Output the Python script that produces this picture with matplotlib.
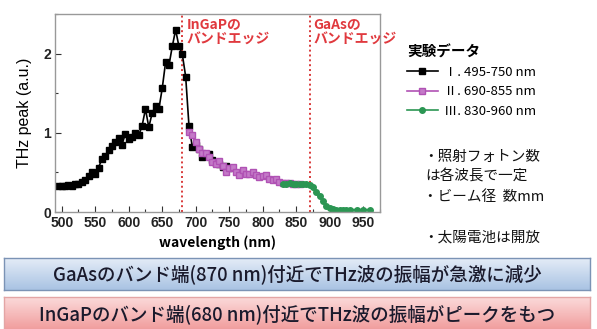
import matplotlib
matplotlib.use("Agg")
import matplotlib.pyplot as plt
import numpy as np
from matplotlib.colors import LinearSegmentedColormap
from matplotlib.ticker import MultipleLocator

plt.rcParams["font.family"] = ["Noto Sans CJK JP", "DejaVu Sans"]

# series I : 495-750 nm
wl_1 = [495, 500, 505, 510, 515, 520, 525, 530, 535, 540, 545, 550, 555, 560, 565,
        570, 575, 580, 585, 590, 595, 600, 605, 610, 615, 620, 625, 630, 635, 640,
        645, 650, 655, 660, 665, 670, 675, 680, 685, 690, 695, 700, 705, 710, 715,
        720, 725, 730, 735, 740, 745, 750]
thz_1 = [0.33, 0.33, 0.33, 0.34, 0.33, 0.35, 0.35, 0.38, 0.41, 0.46, 0.51, 0.48, 0.56, 0.67, 0.71,
         0.78, 0.83, 0.88, 0.94, 0.85, 0.99, 0.92, 0.95, 1.00, 0.97, 1.09, 1.30, 1.07, 1.25, 1.34,
         1.30, 1.56, 1.89, 1.85, 2.09, 2.30, 2.09, 1.99, 1.71, 1.08, 0.82, 0.84, 0.80, 0.69, 0.72,
         0.73, 0.66, 0.62, 0.60, 0.57, 0.58, 0.55]

# series II : 690-855 nm
wl_2 = [690, 695, 700, 705, 710, 715, 720, 725, 730, 735, 740, 745, 750, 755, 760,
        765, 770, 775, 780, 785, 790, 795, 800, 805, 810, 815, 820, 825, 830, 835,
        840, 845, 850, 855]
thz_2 = [1.01, 0.97, 0.89, 0.80, 0.75, 0.74, 0.70, 0.63, 0.61, 0.65, 0.58, 0.51, 0.55, 0.57, 0.50,
         0.47, 0.53, 0.48, 0.48, 0.51, 0.47, 0.44, 0.46, 0.47, 0.42, 0.40, 0.42, 0.38, 0.37, 0.36,
         0.37, 0.35, 0.35, 0.35]

# series III : 830-960 nm
wl_3 = [830, 835, 840, 845, 850, 855, 860, 865, 870, 875, 880, 885, 890, 895, 900,
        905, 910, 915, 920, 925, 930, 940, 950, 960]
thz_3 = [0.35, 0.35, 0.36, 0.35, 0.35, 0.35, 0.35, 0.35, 0.34, 0.31, 0.25, 0.20, 0.14, 0.08, 0.05,
         0.04, 0.03, 0.03, 0.03, 0.03, 0.03, 0.03, 0.03, 0.03]

labels = ["Ⅰ. 495-750 nm", "Ⅱ. 690-855 nm", "Ⅲ. 830-960 nm"]
band_edges = [680, 870]
edge_labels = ["InGaPの\nバンドエッジ", "GaAsの\nバンドエッジ"]
notes = ["・照射フォトン数", "は各波長で一定", "・ビーム径  数mm", "・太陽電池は開放"]
banners = ["GaAsのバンド端(870 nm)付近でTHz波の振幅が急激に減少",
           "InGaPのバンド端(680 nm)付近でTHz波の振幅がピークをもつ"]

W, H = 597, 329
fig = plt.figure(figsize=(W / 100, H / 100), dpi=100)
fig.patch.set_facecolor("white")

ax = fig.add_axes([55 / W, 1 - 212 / H, 325 / W, 198 / H])
l1, = ax.plot(wl_1, thz_1, color="black", marker="s", markersize=3.8, linewidth=1.2, label=labels[0])
l2, = ax.plot(wl_2, thz_2, color="#b052b4", marker="s", markersize=4.8, linewidth=1.2,
              markerfacecolor="#c47ac8", label=labels[1])
l3, = ax.plot(wl_3, thz_3, color="#2b9653", marker="o", markersize=4.0, linewidth=1.2, label=labels[2])

for x in band_edges:
    ax.axvline(x, color="#d93a3a", linestyle=(0, (1, 1.5)), linewidth=1.4, zorder=0)

ax.set_xlim(490, 975)
ax.set_ylim(0, 2.5)
ax.xaxis.set_major_locator(MultipleLocator(50))
ax.xaxis.set_minor_locator(MultipleLocator(25))
ax.yaxis.set_major_locator(MultipleLocator(1))
ax.yaxis.set_minor_locator(MultipleLocator(0.5))
ax.tick_params(which="both", direction="in", colors="#333333")
ax.tick_params(which="major", length=4, width=0.8, pad=3)
ax.tick_params(which="minor", length=2.5, width=0.8)
for lab in ax.get_xticklabels() + ax.get_yticklabels():
    lab.set_family("Liberation Sans")
    lab.set_fontweight("bold")
    lab.set_fontsize(10)
    lab.set_color("#222222")
for s in ax.spines.values():
    s.set_color("#999999")
    s.set_linewidth(1.0)

ax.set_xlabel("wavelength (nm)", fontsize=10, fontweight="bold", labelpad=4)
ax.set_ylabel("THz peak (a.u.)", fontsize=11.5, family="Liberation Sans", labelpad=8)

# band edge annotations
for x, txt in zip(band_edges, edge_labels):
    ax.text(x + 6, 2.46, txt, color="#e0393e", fontsize=10, fontweight="bold",
            va="top", ha="left", linespacing=1.15)

# legend
leg = fig.legend(handles=[l1, l2, l3], loc="upper left",
                 bbox_to_anchor=(402 / W, 1 - 38 / H), frameon=False,
                 title="実験データ", fontsize=9.5, handlelength=2.3,
                 handletextpad=0.45, labelspacing=0.5, alignment="left",
                 borderaxespad=0)
leg.get_title().set_fontsize(10.5)
leg.get_title().set_fontweight("bold")

# notes
note_y = [157, 177, 197, 238]
note_x = [423, 425, 423, 423]
for txt, x, y in zip(notes, note_x, note_y):
    fig.text(x / W, 1 - y / H, txt, fontsize=10.5, va="center", ha="left", color="#111111")

# gradient banners
banner_boxes = [(4, 258, 586, 32), (4, 297, 586, 32)]
banner_cols = [("#e4ecf7", "#a9c3e3"), ("#fbdada", "#f19e9e")]
edge_cols = ["#7b93b5", "#e3a5a5"]
for (bx, by, bw, bh), (c0, c1), ec, txt in zip(banner_boxes, banner_cols, edge_cols, banners):
    bax = fig.add_axes([bx / W, 1 - (by + bh) / H, bw / W, bh / H])
    cmap = LinearSegmentedColormap.from_list("g", [c0, c1])
    bax.imshow(np.linspace(0, 1, 64).reshape(-1, 1), aspect="auto", cmap=cmap,
               extent=(0, 1, 0, 1))
    bax.set_xticks([])
    bax.set_yticks([])
    for s in bax.spines.values():
        s.set_color(ec)
        s.set_linewidth(1.0)
    bax.text(0.5, 0.47, txt, transform=bax.transAxes, ha="center", va="center",
             fontsize=13.3, fontweight="medium", color="#1a1a2c")

fig.savefig("out.png", dpi=100)
